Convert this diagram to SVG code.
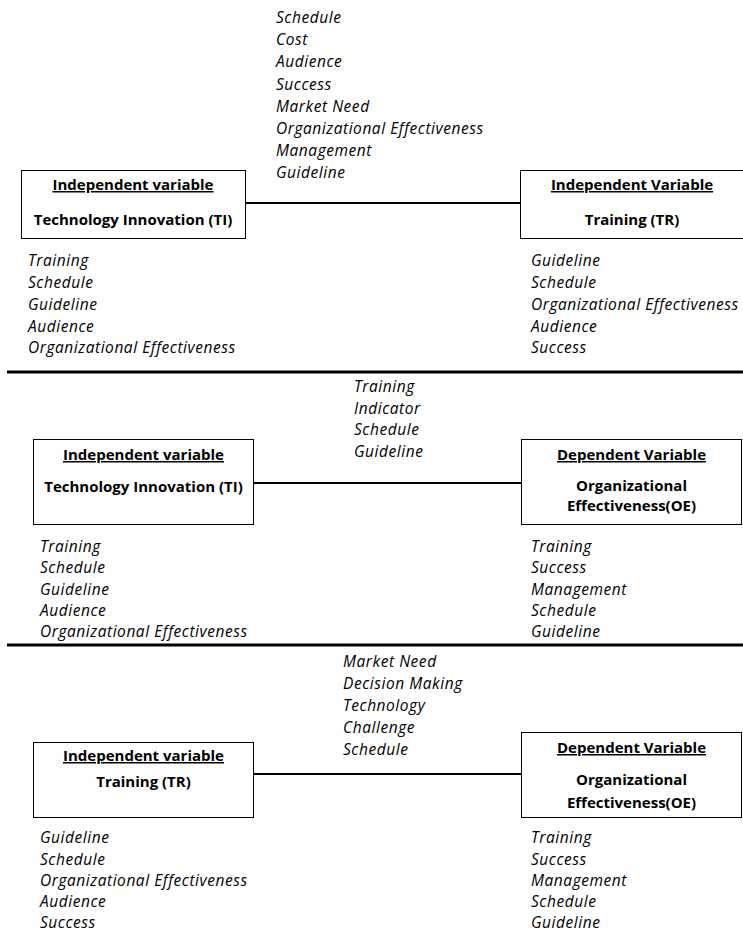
<svg xmlns="http://www.w3.org/2000/svg" width="743" height="932" viewBox="0 0 743 932">
  <style>
    .box { fill: #ffffff; stroke: #000000; stroke-width: 1; }
    .link { stroke: #000000; stroke-width: 2; fill: none; }
    .sep { stroke: #000000; stroke-width: 3; fill: none; }
    .hd { font-family: "Open Sans", "Liberation Sans", sans-serif; font-size: 15px; font-weight: bold; text-anchor: middle; fill: #000; text-decoration: underline; }
    .nm { font-family: "Open Sans", "Liberation Sans", sans-serif; font-size: 15px; font-weight: bold; text-anchor: middle; fill: #000; }
    .it { font-family: "Open Sans", "Liberation Sans", sans-serif; font-size: 15.5px; letter-spacing: 0.55px; font-style: italic; fill: #000; }
  </style>
  <rect width="743" height="932" fill="#ffffff"/>

  <!-- separators and connectors -->
  <g id="connectors">
    <line class="link" x1="245" y1="203" x2="520" y2="203"/>
    <line class="link" x1="253" y1="483" x2="521" y2="483"/>
    <line class="link" x1="253" y1="774" x2="521" y2="774"/>
    <line class="sep" x1="7" y1="372" x2="743" y2="372"/>
    <line class="sep" x1="7" y1="645" x2="743" y2="645"/>
  </g>

  <!-- row 1 -->
  <g id="ti-1">
    <rect class="box" x="21.5" y="170.5" width="224" height="68"/>
    <text class="hd" x="133" y="190">Independent variable</text>
    <text class="nm" x="133" y="225">Technology Innovation (TI)</text>
  </g>
  <g id="tr-1">
    <rect class="box" x="520.5" y="170.5" width="224" height="68"/>
    <text class="hd" x="632" y="190">Independent Variable</text>
    <text class="nm" x="632" y="225">Training (TR)</text>
  </g>
  <g id="link-1-terms">
    <text class="it" x="276" y="23">Schedule</text>
    <text class="it" x="276" y="45">Cost</text>
    <text class="it" x="276" y="67">Audience</text>
    <text class="it" x="276" y="89.5">Success</text>
    <text class="it" x="276" y="111.5">Market Need</text>
    <text class="it" x="276" y="133.5">Organizational Effectiveness</text>
    <text class="it" x="276" y="156">Management</text>
    <text class="it" x="276" y="178">Guideline</text>
  </g>
  <g id="ti-1-terms">
    <text class="it" x="28" y="266">Training</text>
    <text class="it" x="28" y="288">Schedule</text>
    <text class="it" x="28" y="310">Guideline</text>
    <text class="it" x="28" y="331.5">Audience</text>
    <text class="it" x="28" y="353">Organizational Effectiveness</text>
  </g>
  <g id="tr-1-terms">
    <text class="it" x="531" y="266">Guideline</text>
    <text class="it" x="531" y="288">Schedule</text>
    <text class="it" x="531" y="310">Organizational Effectiveness</text>
    <text class="it" x="531" y="331.5">Audience</text>
    <text class="it" x="531" y="353">Success</text>
  </g>

  <!-- row 2 -->
  <g id="ti-2">
    <rect class="box" x="33.5" y="439.5" width="220" height="85"/>
    <text class="hd" x="143.5" y="460">Independent variable</text>
    <text class="nm" x="143.5" y="492">Technology Innovation (TI)</text>
  </g>
  <g id="oe-2">
    <rect class="box" x="521.5" y="439.5" width="220" height="85"/>
    <text class="hd" x="631.5" y="460">Dependent Variable</text>
    <text class="nm" x="631.5" y="491">Organizational</text>
    <text class="nm" x="631.5" y="511">Effectiveness(OE)</text>
  </g>
  <g id="link-2-terms">
    <text class="it" x="354" y="392">Training</text>
    <text class="it" x="354" y="413.5">Indicator</text>
    <text class="it" x="354" y="435">Schedule</text>
    <text class="it" x="354" y="456.5">Guideline</text>
  </g>
  <g id="ti-2-terms">
    <text class="it" x="40" y="552">Training</text>
    <text class="it" x="40" y="573">Schedule</text>
    <text class="it" x="40" y="594.5">Guideline</text>
    <text class="it" x="40" y="616">Audience</text>
    <text class="it" x="40" y="637">Organizational Effectiveness</text>
  </g>
  <g id="oe-2-terms">
    <text class="it" x="531" y="552">Training</text>
    <text class="it" x="531" y="573">Success</text>
    <text class="it" x="531" y="594.5">Management</text>
    <text class="it" x="531" y="616">Schedule</text>
    <text class="it" x="531" y="637">Guideline</text>
  </g>

  <!-- row 3 -->
  <g id="tr-3">
    <rect class="box" x="33.5" y="742.5" width="220" height="75"/>
    <text class="hd" x="143.5" y="761">Independent variable</text>
    <text class="nm" x="143.5" y="787">Training (TR)</text>
  </g>
  <g id="oe-3">
    <rect class="box" x="521.5" y="732.5" width="220" height="85"/>
    <text class="hd" x="631.5" y="753">Dependent Variable</text>
    <text class="nm" x="631.5" y="785">Organizational</text>
    <text class="nm" x="631.5" y="808">Effectiveness(OE)</text>
  </g>
  <g id="link-3-terms">
    <text class="it" x="343" y="667">Market Need</text>
    <text class="it" x="343" y="689">Decision Making</text>
    <text class="it" x="343" y="711">Technology</text>
    <text class="it" x="343" y="733">Challenge</text>
    <text class="it" x="343" y="755">Schedule</text>
  </g>
  <g id="tr-3-terms">
    <text class="it" x="40" y="843">Guideline</text>
    <text class="it" x="40" y="864.5">Schedule</text>
    <text class="it" x="40" y="886">Organizational Effectiveness</text>
    <text class="it" x="40" y="907">Audience</text>
    <text class="it" x="40" y="928">Success</text>
  </g>
  <g id="oe-3-terms">
    <text class="it" x="531" y="843">Training</text>
    <text class="it" x="531" y="864.5">Success</text>
    <text class="it" x="531" y="886">Management</text>
    <text class="it" x="531" y="907">Schedule</text>
    <text class="it" x="531" y="928">Guideline</text>
  </g>
</svg>
